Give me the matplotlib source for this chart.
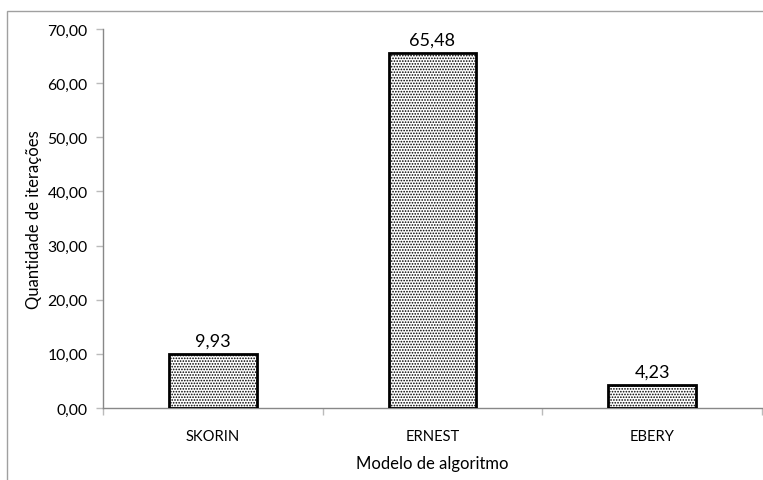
import matplotlib.pyplot as plt
from matplotlib.patches import Rectangle
from matplotlib.ticker import FixedLocator, NullFormatter

plt.rcParams['font.family'] = ['Lato', 'DejaVu Sans']
plt.rcParams['hatch.linewidth'] = 0.8
plt.rcParams['hatch.color'] = 'black'

# Average iterations per algorithm
modelos = ['SKORIN', 'ERNEST', 'EBERY']
iteracoes = [9.93, 65.48, 4.23]
y_ticks = [0, 10, 20, 30, 40, 50, 60, 70]

fig = plt.figure(figsize=(7.63, 4.81), dpi=100)

# light frame around the whole chart area
fig.patches.append(Rectangle((7 / 763, -0.05), 1.1, 1 - 12 / 481 + 0.05,
                             transform=fig.transFigure, fill=False,
                             edgecolor='#a0a0a0', linewidth=1.0))

ax = fig.add_axes([103 / 763, 1 - 409 / 481, 659 / 763, 379 / 481])

x = range(len(modelos))
bars = ax.bar(x, iteracoes, width=0.4, color='white', edgecolor='black',
              linewidth=2.0, hatch='......', zorder=3)

for xi, v in zip(x, iteracoes):
    ax.text(xi, v + 1.0, f'{v:.2f}'.replace('.', ','), ha='center', va='bottom',
            fontsize=13)

ax.set_xlim(-0.5, 2.5)
ax.set_ylim(0, 70)
ax.set_yticks(y_ticks)
ax.set_yticklabels([f'{t:.2f}'.replace('.', ',') for t in y_ticks], fontsize=11.3)

# category labels in the middle, ticks on category boundaries
ax.xaxis.set_major_locator(FixedLocator([-0.5, 0.5, 1.5, 2.5]))
ax.xaxis.set_major_formatter(NullFormatter())
ax.xaxis.set_minor_locator(FixedLocator(list(x)))
ax.set_xticklabels(modelos, minor=True, fontsize=10.6)
ax.tick_params(axis='x', which='minor', length=0, pad=15)
ax.tick_params(axis='x', which='major', length=5, color='#bbbbbb', width=1)
ax.tick_params(axis='y', length=5, color='#bbbbbb', width=1, pad=6)

for s in ['top', 'right']:
    ax.spines[s].set_visible(False)
for s in ['left', 'bottom']:
    ax.spines[s].set_color('#888888')
    ax.spines[s].set_linewidth(1.0)

ax.set_xlabel('Modelo de algoritmo', fontsize=12, labelpad=9)
ax.set_ylabel('Quantidade de iterações', fontsize=12, labelpad=4)

fig.savefig('out.png', dpi=100)
